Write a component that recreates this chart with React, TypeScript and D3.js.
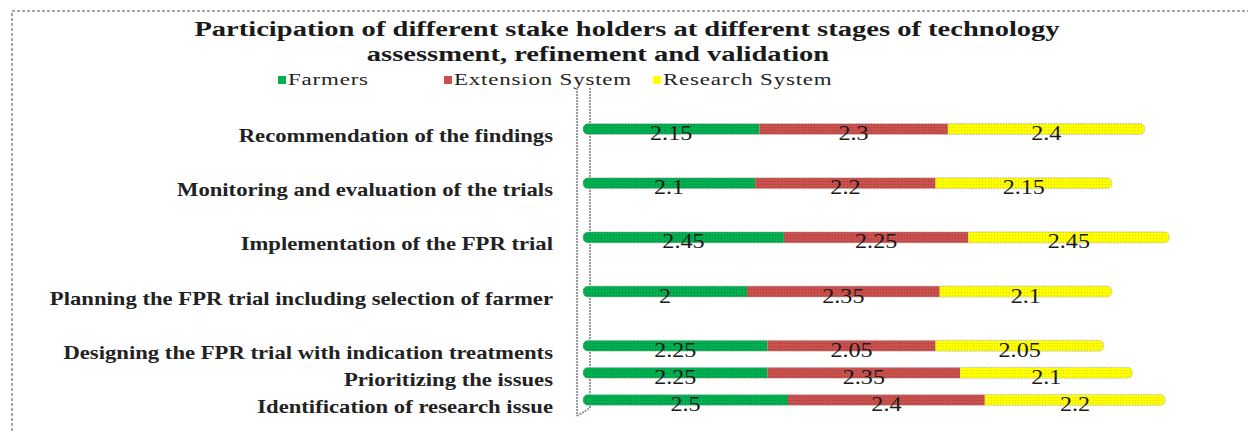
import React from "react";
import * as d3 from "d3";

// stages, top to bottom as in the picture
const stages = [
  "Recommendation of the findings",
  "Monitoring and evaluation of the trials",
  "Implementation of the FPR trial",
  "Planning the FPR trial including selection of farmer",
  "Designing the FPR trial with indication treatments",
  "Prioritizing the issues",
  "Identification of research issue",
];
const seriesNames = ["Farmers", "Extension System", "Research System"];
const farmers = [2.15, 2.1, 2.45, 2, 2.25, 2.25, 2.5];
const extension = [2.3, 2.2, 2.25, 2.35, 2.05, 2.35, 2.4];
const research = [2.4, 2.15, 2.45, 2.1, 2.05, 2.1, 2.2];
const titleLines = [
  "Participation of different stake holders at different stages of technology",
  "assessment, refinement and validation",
];

const W = 1248;
const H = 432;
const colors = ["#00b050", "#c9504c", "#ffff00"];
const dots = ["#06803c", "#a83a36", "#d8d800"];
const serif = "'Liberation Serif', 'Times New Roman', serif";

// the original spacing is uneven: the top four rows sit two slots apart
const slots = [
  stages[0], "_g1",
  stages[1], "_g2",
  stages[2], "_g3",
  stages[3], "_g4",
  stages[4],
  stages[5],
  stages[6],
];

const App = () => {
  const rows = stages.map((s, i) => ({
    stage: s,
    Farmers: farmers[i],
    "Extension System": extension[i],
    "Research System": research[i],
  }));
  const stacked = d3.stack<any>().keys(seriesNames)(rows);

  const x = d3.scaleLinear().domain([0, 7.5]).range([583, 583 + 7.5 * 82]);
  const y = d3.scaleBand().domain(slots).range([115.5, 413.5]).padding(0);
  const barH = 11;
  const x0 = x(0);
  const mid = (s: string) => y(s)! + y.bandwidth() / 2;
  const sx = (s: number, tx: number, ty: number) =>
    `translate(${tx},${ty}) scale(${s},1)`;

  return (
    <svg
      width={W}
      height={H}
      style={{ position: "absolute", left: 0, top: 0, background: "#fff" }}
    >
      <defs>
        {colors.map((c, i) => (
          <pattern
            key={i}
            id={`tex${i}`}
            width={3}
            height={3}
            patternUnits="userSpaceOnUse"
          >
            <rect width={3} height={3} fill={c} />
            <circle cx={1.5} cy={1.5} r={0.6} fill={dots[i]} />
          </pattern>
        ))}
        {rows.map((r, i) => (
          <clipPath key={i} id={`row${i}`}>
            <rect
              x={x0}
              y={mid(r.stage) - barH / 2}
              width={x(farmers[i] + extension[i] + research[i]) - x0}
              height={barH}
              rx={5}
            />
          </clipPath>
        ))}
      </defs>

      {/* chart area border */}
      <rect
        x={12}
        y={11}
        width={W + 20}
        height={H + 20}
        fill="none"
        stroke="#8a8a8a"
        strokeWidth={1.5}
        strokeDasharray="3 2"
      />

      {/* title */}
      {titleLines.map((t, i) => (
        <text
          key={i}
          transform={sx(1.36, i === 1 ? 598 : 627, 36 + i * 25)}
          textAnchor="middle"
          fontFamily={serif}
          fontWeight="bold"
          fontSize={21}
          fill="#1a1a1a"
        >
          {t}
        </text>
      ))}

      {/* legend */}
      {seriesNames.map((n, i) => {
        const lx = [278, 444, 653][i];
        return (
          <g key={n}>
            <rect x={lx} y={76} width={8} height={8} fill={colors[i]} />
            <text
              transform={sx(1.35, lx + 10, 85)}
              fontFamily={serif}
              fontSize={17}
              letterSpacing={0.6}
              fill="#222"
            >
              {n}
            </text>
          </g>
        );
      })}

      {/* back wall */}
      <g stroke="#9a9a9a" strokeWidth={2} fill="none" strokeDasharray="2 1">
        <line x1={x0 - 6} x2={x0 - 6} y1={88} y2={416} />
        <line x1={x0 + 7} x2={x0 + 7} y1={88} y2={408} />
        <line x1={x0 - 6} x2={x0 + 7} y1={416} y2={408} />
      </g>

      {/* category labels */}
      {stages.map((s) => (
        <text
          key={s}
          transform={sx(1.26, 553, mid(s) + 13)}
          textAnchor="end"
          fontFamily={serif}
          fontWeight="bold"
          fontSize={18}
          fill="#222"
        >
          {s}
        </text>
      ))}

      {/* bars */}
      {rows.map((r, i) => (
        <g key={r.stage} clipPath={`url(#row${i})`}>
          {stacked.map((ser, k) => (
            <rect
              key={ser.key}
              x={x(ser[i][0])}
              y={mid(r.stage) - barH / 2}
              width={x(ser[i][1]) - x(ser[i][0])}
              height={barH}
              fill={`url(#tex${k})`}
            />
          ))}
        </g>
      ))}
      {rows.map((r, i) => (
        <rect
          key={"o" + i}
          x={x0}
          y={mid(r.stage) - barH / 2}
          width={x(farmers[i] + extension[i] + research[i]) - x0}
          height={barH}
          rx={5}
          fill="none"
          stroke="#b0b0b0"
          strokeWidth={0.8}
          strokeDasharray="1.5 1"
        />
      ))}

      {/* value labels */}
      {rows.map((r, i) =>
        stacked.map((ser) => (
          <text
            key={r.stage + ser.key}
            transform={sx(
              1.15,
              (x(ser[i][0]) + x(ser[i][1])) / 2,
              mid(r.stage) + 11
            )}
            textAnchor="middle"
            fontFamily={serif}
            fontSize={21}
            fill="#1a1a1a"
          >
            {ser[i].data[ser.key as string]}
          </text>
        ))
      )}
    </svg>
  );
};

export default App;
